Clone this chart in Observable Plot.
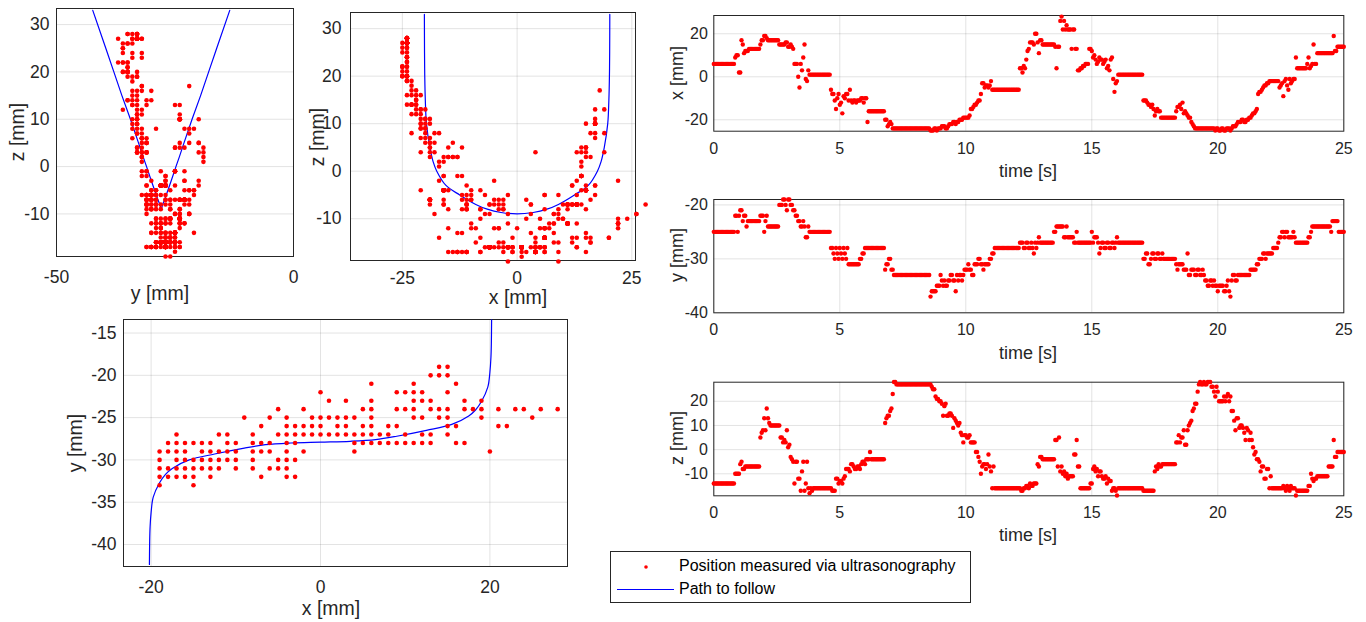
<!DOCTYPE html>
<html>
<head>
<meta charset="utf-8">
<script src="https://cdn.jsdelivr.net/npm/d3@7"></script>
<script src="https://cdn.jsdelivr.net/npm/@observablehq/plot@0.6"></script>
<style>
  html, body { margin: 0; padding: 0; background: #fff; }
  #fig { position: relative; width: 1366px; height: 622px; overflow: hidden; font-family: "Liberation Sans", Arial, sans-serif; color: #262626; }
  #fig svg { position: absolute; overflow: visible; }
  .lab { position: absolute; white-space: nowrap; transform: translate(-50%, -50%); color: #262626; }
  .vlab { transform: translate(-50%, -50%) rotate(-90deg); }
</style>
</head>
<body>
<div id="fig"></div>
<script>
// ---- Measured samples over time (time in s, positions in mm) ----
// Samples on the whole tenths of a second
const time = [
  0,0.1,0.2,0.3,0.4,0.5,0.6,0.7,0.8,0.9,
  1,1.1,1.2,1.3,1.4,1.5,1.6,1.7,1.8,1.9,
  2,2.1,2.2,2.3,2.4,2.5,2.6,2.7,2.8,2.9,
  3,3.1,3.2,3.3,3.4,3.5,3.6,3.7,3.8,3.9,
  4,4.1,4.2,4.3,4.4,4.5,4.6,4.7,4.8,4.9,
  5,5.1,5.2,5.3,5.4,5.5,5.6,5.7,5.8,5.9,
  6,6.1,6.2,6.3,6.4,6.5,6.6,6.7,6.8,6.9,
  7,7.1,7.2,7.3,7.4,7.5,7.6,7.7,7.8,7.9,
  8,8.1,8.2,8.3,8.4,8.5,8.6,8.7,8.8,8.9,
  9,9.1,9.2,9.3,9.4,9.5,9.6,9.7,9.8,9.9,
  10,10.1,10.2,10.3,10.4,10.5,10.6,10.7,10.8,10.9,
  11,11.1,11.2,11.3,11.4,11.5,11.6,11.7,11.8,11.9,
  12,12.1,12.2,12.3,12.4,12.5,12.6,12.7,12.8,12.9,
  13,13.1,13.2,13.3,13.4,13.5,13.6,13.7,13.8,13.9,
  14,14.1,14.2,14.3,14.4,14.5,14.6,14.7,14.8,14.9,
  15,15.1,15.2,15.3,15.4,15.5,15.6,15.7,15.8,15.9,
  16,16.1,16.2,16.3,16.4,16.5,16.6,16.7,16.8,16.9,
  17,17.1,17.2,17.3,17.4,17.5,17.6,17.7,17.8,17.9,
  18,18.1,18.2,18.3,18.4,18.5,18.6,18.7,18.8,18.9,
  19,19.1,19.2,19.3,19.4,19.5,19.6,19.7,19.8,19.9,
  20,20.1,20.2,20.3,20.4,20.5,20.6,20.7,20.8,20.9,
  21,21.1,21.2,21.3,21.4,21.5,21.6,21.7,21.8,21.9,
  22,22.1,22.2,22.3,22.4,22.5,22.6,22.7,22.8,22.9,
  23,23.1,23.2,23.3,23.4,23.5,23.6,23.7,23.8,23.9,
  24,24.1,24.2,24.3,24.4,24.5,24.6,24.7,24.8,24.9,
  25
];
const posX = [
  6,6,6,6,6,6,6,6,6,10,
  2,17,11,12,13,13,13,13,13,17,
  19,18,17,17,17,17,15,15,15,16,
  14,14,6,6,-5,3,15,-2,1,1,
  1,1,1,1,1,1,1,-8,-11,-10,
  -13,-17,-10,-8,-6,-12,-11,-11,-11,-10,
  -10,-21,-16,-16,-16,-16,-16,-16,-20,-23,
  -21,-24,-24,-24,-24,-24,-24,-24,-24,-24,
  -24,-24,-24,-24,-24,-24,-25,-25,-24,-24,
  -24,-23,-24,-23,-22,-21,-22,-21,-20,-19,
  -19,-19,-15,-14,-13,-11,-8,-3,-4,-5,
  -2,-6,-6,-6,-6,-6,-6,-6,-6,-6,
  -6,-6,4,5,8,13,16,15,20,11,
  17,15,15,15,15,15,4,14,28,26,
  24,22,13,22,13,3,4,5,6,13,
  12,10,6,9,8,7,4,3,9,-7,
  -2,1,1,1,1,1,1,1,1,1,
  1,-11,-12,-13,-13,-18,-15,-16,-19,-19,
  -19,-19,-19,-19,-14,-13,-12,-16,-18,-19,
  -22,-24,-24,-24,-24,-24,-24,-24,-24,-25,
  -24,-25,-24,-25,-24,-25,-23,-23,-21,-21,
  -20,-21,-20,-19,-17,-16,-8,-7,-5,-4,
  -3,-2,-2,-2,-2,-4,-9,-1,-6,-3,
  -1,9,4,4,4,4,9,5,15,6,
  11,11,11,11,11,11,19,12,14,14,
  14
];
const posY = [
  -25,-25,-25,-25,-25,-25,-25,-25,-25,-22,
  -22,-21,-22,-24,-23,-23,-23,-23,-23,-22,
  -25,-22,-24,-24,-24,-24,-20,-20,-19,-21,
  -19,-20,-21,-22,-23,-24,-24,-26,-25,-25,
  -25,-25,-25,-25,-25,-25,-25,-28,-30,-29,
  -28,-30,-29,-28,-31,-31,-31,-31,-30,-29,
  -28,-28,-28,-28,-28,-28,-28,-28,-32,-31,
  -30,-32,-33,-33,-33,-33,-33,-33,-33,-33,
  -33,-33,-33,-33,-33,-33,-37,-36,-36,-35,
  -33,-35,-35,-34,-33,-34,-36,-34,-33,-33,
  -32,-31,-32,-33,-31,-30,-31,-32,-31,-31,
  -30,-29,-28,-28,-28,-28,-28,-28,-28,-28,
  -28,-28,-27,-28,-27,-28,-27,-29,-28,-26,
  -27,-27,-27,-27,-27,-25,-24,-24,-24,-26,
  -24,-26,-26,-27,-25,-27,-27,-27,-27,-27,
  -25,-26,-26,-29,-27,-28,-27,-28,-27,-28,
  -26,-27,-27,-27,-27,-27,-27,-27,-27,-27,
  -27,-30,-29,-31,-29,-30,-29,-30,-29,-30,
  -30,-30,-30,-30,-32,-31,-31,-32,-29,-33,
  -32,-33,-32,-33,-32,-34,-35,-34,-35,-35,
  -36,-35,-35,-36,-34,-37,-33,-34,-33,-33,
  -33,-33,-33,-32,-32,-32,-31,-30,-29,-30,
  -29,-29,-28,-28,-27,-26,-25,-25,-26,-26,
  -25,-27,-27,-27,-27,-27,-26,-25,-24,-24,
  -24,-24,-24,-24,-24,-25,-23,-23,-25,-25,
  -25
];
const posZ = [
  -14,-14,-14,-14,-14,-14,-14,-14,-14,-10,
  -10,-5,-8,-7,-7,-7,-7,-7,-7,7,
  13,17,11,10,10,10,10,5,4,8,
  2,-4,-14,-5,-12,-9,-17,-5,-18,-17,
  -16,-16,-16,-16,-16,-16,-16,-17,-17,-12,
  -13,-14,-11,-8,-9,-6,-8,-7,-8,-5,
  -6,-4,-1,-4,-4,-4,-4,-4,11,14,
  16,23,28,27,27,27,27,27,27,27,
  27,27,27,27,27,27,27,25,22,21,
  20,14,19,14,15,9,12,10,7,3,
  6,5,3,3,-1,-3,-10,-6,-8,-2,
  -9,-7,-16,-16,-16,-16,-16,-16,-16,-16,
  -16,-16,-17,-16,-15,-16,-15,-14,-14,-7,
  -3,-4,-4,-4,-4,-4,4,5,-7,-9,
  -10,-11,-11,-2,4,-7,-16,-16,-16,-16,
  -14,-7,-8,-9,-11,-12,-14,-13,-17,-16,
  -19,-16,-16,-16,-16,-16,-16,-16,-16,-16,
  -16,-17,-17,-17,-17,-9,-8,-7,-6,-6,
  -6,-6,-6,-6,3,3,5,2,8,11,
  16,19,24,28,27,27,28,28,26,22,
  24,20,20,20,23,22,16,8,13,10,
  9,4,8,7,1,-1,-4,-9,-7,-12,
  -8,-11,-16,-16,-16,-16,-15,-17,-16,-15,
  -16,-19,-17,-17,-17,-17,-15,-10,-13,-12,
  -11,-11,-11,-11,-7,-7,4,-3,-1,-1,
  -1
];

// Samples in between (the half tenths)
const timeMid = [
  0.05,0.15,0.25,0.35,0.45,0.55,0.65,0.75,0.85,0.95,
  1.05,1.15,1.25,1.35,1.45,1.55,1.65,1.75,1.85,1.95,
  2.05,2.15,2.25,2.35,2.45,2.55,2.65,2.75,2.85,2.95,
  3.05,3.15,3.25,3.35,3.45,3.55,3.65,3.75,3.85,3.95,
  4.05,4.15,4.25,4.35,4.45,4.55,4.65,4.75,4.85,4.95,
  5.05,5.15,5.25,5.35,5.45,5.55,5.65,5.75,5.85,5.95,
  6.05,6.15,6.25,6.35,6.45,6.55,6.65,6.75,6.85,6.95,
  7.05,7.15,7.25,7.35,7.45,7.55,7.65,7.75,7.85,7.95,
  8.05,8.15,8.25,8.35,8.45,8.55,8.65,8.75,8.85,8.95,
  9.05,9.15,9.25,9.35,9.45,9.55,9.65,9.75,9.85,9.95,
  10.05,10.15,10.25,10.35,10.45,10.55,10.65,10.75,10.85,10.95,
  11.05,11.15,11.25,11.35,11.45,11.55,11.65,11.75,11.85,11.95,
  12.05,12.15,12.25,12.35,12.45,12.55,12.65,12.75,12.85,12.95,
  13.05,13.15,13.25,13.35,13.45,13.55,13.65,13.75,13.85,13.95,
  14.05,14.15,14.25,14.35,14.45,14.55,14.65,14.75,14.85,14.95,
  15.05,15.15,15.25,15.35,15.45,15.55,15.65,15.75,15.85,15.95,
  16.05,16.15,16.25,16.35,16.45,16.55,16.65,16.75,16.85,16.95,
  17.05,17.15,17.25,17.35,17.45,17.55,17.65,17.75,17.85,17.95,
  18.05,18.15,18.25,18.35,18.45,18.55,18.65,18.75,18.85,18.95,
  19.05,19.15,19.25,19.35,19.45,19.55,19.65,19.75,19.85,19.95,
  20.05,20.15,20.25,20.35,20.45,20.55,20.65,20.75,20.85,20.95,
  21.05,21.15,21.25,21.35,21.45,21.55,21.65,21.75,21.85,21.95,
  22.05,22.15,22.25,22.35,22.45,22.55,22.65,22.75,22.85,22.95,
  23.05,23.15,23.25,23.35,23.45,23.55,23.65,23.75,23.85,23.95,
  24.05,24.15,24.25,24.35,24.45,24.55,24.65,24.75,24.85,24.95
];
const posXMid = [
  6,6,6,6,6,6,6,6,9,10,
  2,15,12,12,13,13,13,13,15,17,
  19,17,17,17,17,17,15,15,16,14,
  15,13,6,0,6,9,-1,3,1,1,
  1,1,1,1,1,1,-6,-8,-15,-8,
  -12,-9,-8,-11,-11,-11,-12,-11,-10,-12,
  -10,-16,-16,-16,-16,-16,-16,-16,-20,-22,
  -22,-24,-24,-24,-24,-24,-24,-24,-24,-24,
  -24,-24,-24,-24,-24,-24,-25,-24,-25,-24,
  -23,-23,-24,-22,-22,-21,-21,-20,-20,-19,
  -19,-18,-15,-13,-12,-11,-3,-5,-4,-4,
  -6,-6,-6,-6,-6,-6,-6,-6,-6,-6,
  -6,4,2,4,12,16,16,20,16,17,
  15,15,15,15,15,14,14,26,22,22,
  22,22,22,13,3,4,5,6,6,13,
  9,8,7,8,6,8,5,8,-1,-3,
  1,1,1,1,1,1,1,1,1,1,
  -11,-11,-13,-14,-15,-16,-16,-19,-19,-19,
  -19,-19,-19,-16,-14,-15,-17,-17,-19,-21,
  -23,-24,-24,-24,-24,-24,-24,-24,-24,-24,
  -25,-24,-25,-24,-24,-24,-23,-22,-21,-20,
  -21,-20,-19,-18,-17,-15,-7,-6,-4,-3,
  -2,-2,-2,-2,-5,-3,-2,-4,-1,-2,
  -1,4,4,4,4,6,4,6,6,11,
  11,11,11,11,11,11,12,14,14,14
];
const posYMid = [
  -25,-25,-25,-25,-25,-25,-25,-25,-22,-25,
  -21,-23,-22,-23,-23,-23,-23,-23,-22,-22,
  -23,-24,-24,-24,-24,-24,-20,-19,-20,-19,
  -20,-21,-22,-23,-24,-23,-26,-24,-25,-25,
  -25,-25,-25,-25,-25,-25,-28,-29,-28,-30,
  -29,-28,-30,-31,-31,-31,-31,-31,-30,-29,
  -28,-28,-28,-28,-28,-28,-28,-28,-31,-30,
  -32,-33,-33,-33,-33,-33,-33,-33,-33,-33,
  -33,-33,-33,-33,-33,-33,-36,-36,-35,-35,
  -34,-34,-35,-34,-33,-34,-33,-33,-34,-32,
  -32,-32,-33,-31,-31,-30,-31,-31,-31,-30,
  -29,-28,-28,-28,-28,-28,-28,-28,-28,-28,
  -28,-27,-27,-28,-27,-28,-28,-27,-27,-27,
  -27,-27,-27,-27,-27,-25,-24,-24,-24,-26,
  -26,-26,-26,-27,-27,-27,-27,-27,-27,-27,
  -27,-26,-27,-28,-27,-28,-27,-28,-27,-27,
  -27,-27,-27,-27,-27,-27,-27,-27,-27,-27,
  -30,-29,-31,-30,-29,-30,-29,-30,-30,-30,
  -30,-30,-30,-31,-31,-31,-32,-32,-33,-32,
  -32,-33,-32,-33,-33,-34,-35,-34,-34,-35,
  -35,-35,-36,-35,-36,-34,-33,-34,-33,-33,
  -33,-33,-33,-32,-32,-31,-30,-30,-29,-29,
  -29,-29,-28,-28,-26,-25,-26,-25,-26,-26,
  -26,-27,-27,-27,-27,-27,-26,-24,-24,-24,
  -24,-24,-24,-24,-24,-23,-23,-23,-25,-25
];
const posZMid = [
  -14,-14,-14,-14,-14,-14,-14,-14,-10,-10,
  -6,-8,-7,-7,-7,-7,-7,-7,5,8,
  8,13,10,10,10,10,5,3,3,1,
  -3,-5,-5,-12,-17,-5,-14,-16,-16,-16,
  -16,-16,-16,-16,-16,-16,-16,-17,-12,-14,
  -13,-12,-8,-8,-6,-7,-8,-7,-6,-5,
  -4,-4,-4,-4,-4,-4,-4,-4,13,14,
  17,28,27,27,27,27,27,27,27,27,
  27,27,27,27,27,27,26,25,21,20,
  19,18,14,15,14,13,11,11,6,6,
  5,6,3,3,-1,-5,-7,-6,-6,-7,
  -16,-16,-16,-16,-16,-16,-16,-16,-16,-16,
  -16,-16,-17,-16,-15,-14,-15,-14,-6,-3,
  -4,-4,-4,-4,-4,4,-7,-9,-10,-11,
  -12,-11,-11,-2,-7,-16,-16,-16,-16,-14,
  -8,-9,-11,-9,-12,-11,-12,-13,-16,-17,
  -16,-16,-16,-16,-16,-16,-16,-16,-16,-16,
  -17,-17,-17,-17,-17,-7,-6,-7,-6,-6,
  -6,-6,-6,3,6,5,8,2,10,12,
  17,19,27,27,28,27,28,26,24,26,
  20,20,22,22,20,16,12,13,9,10,
  7,9,4,4,-2,-4,-5,-7,-12,-8,
  -16,-16,-16,-16,-16,-16,-16,-15,-17,-16,
  -16,-17,-17,-17,-17,-17,-15,-12,-12,-11,
  -11,-11,-11,-11,-7,-7,-3,-1,-1,-1
];

// ---- Positions shown in the horizontal (x, y) view, read column by column ----
const planeX = [
  -19,-19,-19,-19,-19,
  -18,-18,-18,-18,
  -17,-17,-17,-17,-17,-17,
  -16,-16,-16,-16,-16,
  -15,-15,-15,-15,-15,
  -14,-14,-14,-14,
  -13,-13,-13,-13,-13,
  -12,-12,-12,-12,
  -11,-11,-11,-11,
  -10,-10,-10,-10,
  -9,
  -8,-8,-8,-8,-8,
  -7,-7,-7,-7,
  -6,-6,-6,-6,
  -5,-5,-5,-5,
  -4,-4,-4,-4,-4,-4,-4,-4,
  -3,-3,-3,-3,-3,
  -2,-2,-2,-2,
  -1,-1,-1,
  0,0,0,0,
  1,1,1,
  2,2,2,
  3,3,3,3,
  4,4,4,4,
  5,5,5,5,
  6,6,6,6,6,6,6,
  7,7,
  8,8,8,
  9,9,9,9,
  10,10,10,10,
  11,11,11,11,11,11,
  12,12,12,12,12,
  13,13,13,13,13,
  14,14,14,14,
  15,15,15,15,15,15,15,
  16,16,16,
  17,17,17,
  18,
  19,19,19,
  20,
  21,21,
  22,23,24,25,26,28
];
const planeY = [
  -29,-30,-31,-32,-33,
  -28,-29,-31,-32,
  -27,-28,-29,-30,-31,-32,
  -28,-29,-30,-31,-32,
  -28,-30,-31,-32,-33,
  -28,-29,-30,-31,
  -28,-29,-30,-31,-32,
  -27,-29,-30,-31,
  -27,-28,-29,-30,
  -28,-29,-30,-31,
  -25,
  -27,-28,-29,-30,-31,
  -26,-28,-29,-32,
  -25,-28,-29,-31,
  -24,-27,-30,-31,
  -25,-26,-27,-28,-29,-30,-31,-32,
  -26,-27,-28,-30,-32,
  -24,-26,-27,-29,
  -25,-26,-27,
  -22,-25,-26,-27,
  -23,-25,-27,
  -25,-26,-27,
  -23,-25,-26,-27,
  -25,-27,-28,-29,
  -24,-26,-27,-28,
  -21,-23,-24,-25,-26,-27,-28,
  -27,-28,
  -26,-27,-28,
  -22,-24,-26,-28,
  -22,-24,-27,-28,
  -21,-22,-23,-24,-25,-28,
  -22,-23,-25,-27,-28,
  -20,-23,-24,-27,-28,
  -19,-20,-24,-25,
  -19,-20,-22,-24,-25,-26,-27,
  -21,-26,-28,
  -23,-24,-28,
  -24,
  -23,-24,-25,
  -29,
  -24,-26,
  -26,-24,-24,-25,-24,-24
];

// ---- Reference path (mm) ----
const pathX = [-20.2,-20.17,-20.12,-20.0,-19.75,-19.0,-18.3,-17.5,-15.5,-12.5,-9,-6.5,-3.5,0,3.5,6.5,9,12.5,15.5,17.5,18.3,19.0,19.75,20.0,20.12,20.17,20.2];
const pathY = [-42.35,-39.6,-37.9,-36.2,-34.4,-32.7,-31.7,-31.0,-30.0,-29.3,-28.6,-28.2,-28.0,-27.9,-27.8,-27.6,-27.2,-26.5,-25.8,-24.8,-24.1,-23.1,-21.4,-19.6,-17.9,-16.2,-13.45];
const pathZ = [33,25,20,15,10,5,2,0,-3,-5,-7,-8,-8.7,-9,-8.7,-8,-7,-5,-3,0,2,5,10,15,20,25,33];

// ---- Axis ticks ----
const ticksYZ_y = [-50, 0];
const ticksXZ_x = [-25, 0, 25];
const ticksZ = [-10, 0, 10, 20, 30];
const ticksXY_x = [-20, 0, 20];
const ticksXY_y = [-40, -35, -30, -25, -20, -15];
const ticksTime = [0, 5, 10, 15, 20, 25];
const ticksXt = [-20, 0, 20];
const ticksYt = [-40, -30, -20];
const ticksZt = [-10, 0, 10, 20];

const samples = time.map((t, i) => ({t, x: posX[i], y: posY[i], z: posZ[i]}))
  .concat(timeMid.map((t, i) => ({t, x: posXMid[i], y: posYMid[i], z: posZMid[i]})));
const plane = planeX.map((x, i) => ({x, y: planeY[i]}));
const path = pathX.map((x, i) => ({x, y: pathY[i], z: pathZ[i]}));

const RED = "#ff0000", BLUE = "#0000ff", INK = "#262626";
const fig = document.getElementById("fig");
const fmt = d => String(d);

function panel(o) {
  const svg = Plot.plot({
    width: o.w, height: o.h,
    marginLeft: o.fx0 - o.left,
    marginRight: o.left + o.w - o.fx1,
    marginTop: o.fy0 - o.top,
    marginBottom: o.top + o.h - o.fy1,
    style: {fontFamily: "'Liberation Sans', Arial, sans-serif", fontSize: o.fs + "px", color: INK, background: "transparent", overflow: "visible"},
    x: {domain: o.xd, label: null},
    y: {domain: o.yd, label: null},
    marks: [
      Plot.gridX(o.xt, {stroke: INK, strokeOpacity: 0.13}),
      Plot.gridY(o.yt, {stroke: INK, strokeOpacity: 0.13}),
      Plot.axisX(o.xt, {tickSize: 0, tickPadding: o.xpad, tickFormat: fmt, fill: INK, fontSize: o.fs}),
      Plot.axisY(o.yt, {tickSize: 0, tickPadding: o.ypad, tickFormat: fmt, fill: INK, fontSize: o.fs}),
      Plot.frame({stroke: INK, strokeWidth: 1}),
      ...o.marks
    ]
  });
  svg.style.left = o.left + "px";
  svg.style.top = o.top + "px";
  fig.appendChild(svg);
}

function label(text, cx, cy, size, vertical) {
  const d = document.createElement("div");
  d.className = "lab" + (vertical ? " vlab" : "");
  d.textContent = text;
  d.style.left = cx + "px";
  d.style.top = cy + "px";
  d.style.fontSize = size + "px";
  fig.appendChild(d);
}

const dots = (data, xk, yk, r) => Plot.dot(data, {x: xk, y: yk, r, fill: RED, stroke: "none"});

// Panel 1: y vs z
panel({left: 0, top: 0, w: 310, h: 305, fx0: 56, fx1: 293, fy0: 8, fy1: 256,
  xd: [-50, 0], yd: [-19, 33.4], xt: ticksYZ_y, yt: ticksZ, fs: 17.5, xpad: 14, ypad: 7,
  marks: [
    Plot.line(path, {x: "y", y: "z", stroke: BLUE, strokeWidth: 1.2}),
    dots(samples, "y", "z", 2.3)
  ]});
label("z [mm]", 17, 132, 19.5, true);
label("y [mm]", 160, 293, 19.5, false);

// Panel 2: x vs z
panel({left: 300, top: 0, w: 370, h: 305, fx0: 350, fx1: 635, fy0: 12, fy1: 260,
  xd: [-36.3, 25.8], yd: [-18.8, 33.4], xt: ticksXZ_x, yt: ticksZ, fs: 17.5, xpad: 11, ypad: 9,
  marks: [
    Plot.line(path, {x: "x", y: "z", stroke: BLUE, strokeWidth: 1.2, curve: "catmull-rom"}),
    dots(samples, "x", "z", 2.3)
  ]});
label("z [mm]", 317, 137, 19.5, true);
label("x [mm]", 518, 297, 19.5, false);

// Panel 3: x vs y
panel({left: 40, top: 305, w: 560, h: 305, fx0: 123, fx1: 567, fy0: 319, fy1: 566,
  xd: [-23.26, 29.16], yd: [-42.6, -13.4], xt: ticksXY_x, yt: ticksXY_y, fs: 17.5, xpad: 14, ypad: 7,
  marks: [
    Plot.line(path, {x: "x", y: "y", stroke: BLUE, strokeWidth: 1.2, curve: "catmull-rom"}),
    dots(plane, "x", "y", 2.3)
  ]});
label("y [mm]", 75, 443, 19.5, true);
label("x [mm]", 331, 608, 19.5, false);

// Time panels
const tp = [
  {key: "x", top: 0, fy0: 15, fy1: 130.7, yd: [-25.3, 28.5], yt: ticksXt, lab: "x [mm]", ly: 73, ty: 171},
  {key: "y", top: 185, fy0: 199, fy1: 312.3, yd: [-40, -19], yt: ticksYt, lab: "y [mm]", ly: 255, ty: 353},
  {key: "z", top: 370, fy0: 381.7, fy1: 495.3, yd: [-19.1, 27.9], yt: ticksZt, lab: "z [mm]", ly: 438, ty: 535}
];
for (const p of tp) {
  panel({left: 660, top: p.top, w: 706, h: 170, fx0: 713.3, fx1: 1343.3, fy0: p.fy0, fy1: p.fy1,
    xd: [0, 25], yd: p.yd, xt: ticksTime, yt: p.yt, fs: 16, xpad: 11, ypad: 6,
    marks: [dots(samples, "t", p.key, 2.2)]});
  label(p.lab, 677, p.ly, 18, true);
  label("time [s]", 1028, p.ty, 18, false);
}

// Legend
const leg = document.createElement("div");
leg.style.cssText = "position:absolute;left:610px;top:551px;width:361px;height:52px;box-sizing:border-box;border:1px solid #262626;background:#fff;font-size:16px;color:#000;";
leg.innerHTML =
  '<svg width="70" height="50" style="position:absolute;left:0;top:0">' +
  '<circle cx="35" cy="15" r="1.8" fill="' + RED + '"></circle>' +
  '<line x1="6" x2="63" y1="37.5" y2="37.5" stroke="' + BLUE + '" stroke-width="1.2"></line></svg>' +
  '<div style="position:absolute;left:68px;top:5px;white-space:nowrap">Position measured via ultrasonography</div>' +
  '<div style="position:absolute;left:68px;top:28px;white-space:nowrap">Path to follow</div>';
fig.appendChild(leg);
</script>
</body>
</html>
